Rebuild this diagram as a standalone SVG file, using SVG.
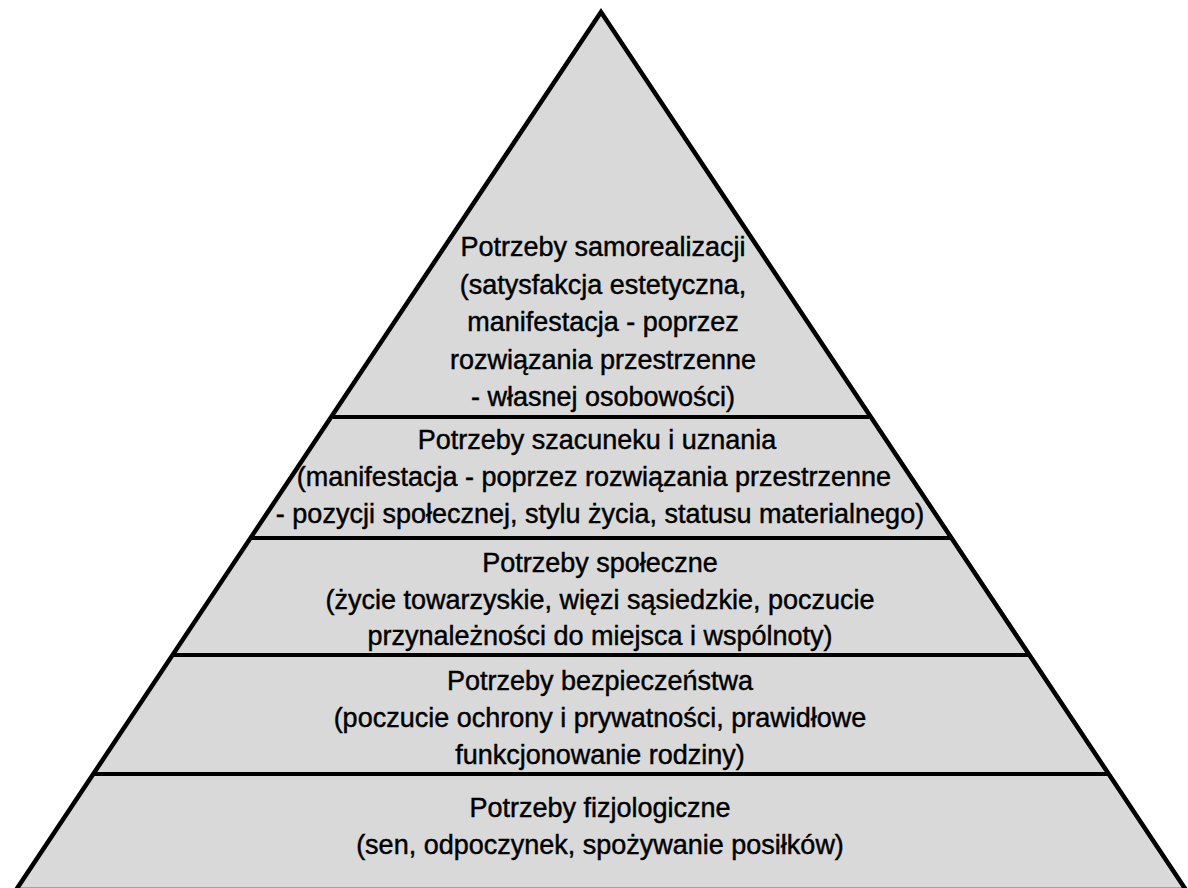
<svg xmlns="http://www.w3.org/2000/svg" width="1188" height="888" viewBox="0 0 1188 888">
<style>
.t{font-family:"Liberation Sans",Arial,sans-serif;font-size:27px;fill:#000;stroke:#000;stroke-width:0.45;text-anchor:middle}
.d{stroke:#000;stroke-width:4;fill:none}
</style>
<rect width="1188" height="888" fill="#fff"/>
<g id="pyramid">
<polygon points="601,12 16,890 1186,890" fill="#d9d9d9" stroke="#000" stroke-width="4.5" stroke-linejoin="miter"/>
</g>
<g id="connectors">
<line class="d" x1="333" y1="417" x2="869" y2="417"/>
<line class="d" x1="250" y1="538" x2="952" y2="538"/>
<line class="d" x1="172" y1="655" x2="1030" y2="655"/>
<line class="d" x1="93" y1="774" x2="1109" y2="774"/>
</g>
<g id="level5">
<text class="t" x="603" y="256">Potrzeby samorealizacji</text>
<text class="t" x="603" y="294">(satysfakcja estetyczna,</text>
<text class="t" x="603" y="331">manifestacja - poprzez</text>
<text class="t" x="603" y="369">rozwiązania przestrzenne</text>
<text class="t" x="603" y="406">- własnej osobowości)</text>
</g>
<g id="level4">
<text class="t" x="597" y="449">Potrzeby szacuneku i uznania</text>
<text class="t" x="594" y="486">(manifestacja - poprzez rozwiązania przestrzenne</text>
<text class="t" x="600" y="523">- pozycji społecznej, stylu życia, statusu materialnego)</text>
</g>
<g id="level3">
<text class="t" x="600" y="572">Potrzeby społeczne</text>
<text class="t" x="600" y="609">(życie towarzyskie, więzi sąsiedzkie, poczucie</text>
<text class="t" x="600" y="645">przynależności do miejsca i wspólnoty)</text>
</g>
<g id="level2">
<text class="t" x="600" y="690">Potrzeby bezpieczeństwa</text>
<text class="t" x="600" y="727">(poczucie ochrony i prywatności, prawidłowe</text>
<text class="t" x="600" y="764">funkcjonowanie rodziny)</text>
</g>
<g id="level1">
<text class="t" x="600" y="817">Potrzeby fizjologiczne</text>
<text class="t" x="600" y="854">(sen, odpoczynek, spożywanie posiłków)</text>
</g>
</svg>
